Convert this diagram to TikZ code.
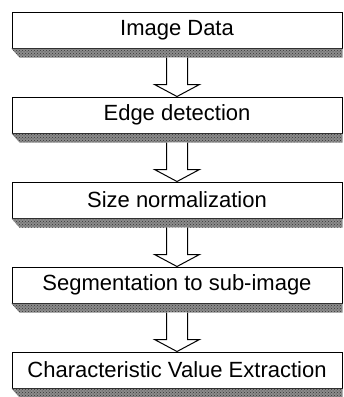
\documentclass[tikz,border=0pt]{standalone}
\usepackage{fontspec}
\setmainfont{Liberation Sans}
\usetikzlibrary{positioning,calc,patterns}
\tikzset{stage/.style={draw, line width=1pt, fill=white, minimum width=330pt,
    minimum height=36pt, inner sep=0pt, font=\fontsize{22}{25}\selectfont}}
\tikzset{shade/.style={fill=black!45, postaction={pattern=crosshatch dots, pattern color=black!80}}}
\tikzset{hollow/.style={draw, line width=1pt, fill=white, line join=miter}}

\begin{document}
\begin{tikzpicture}[x=1pt,y=-1pt]
       \useasboundingbox (0,0) rectangle (344,397);
       \node[stage] (img) at (177,30) {Image Data};
       \node[stage, below=48pt of img] (edge) {Edge detection};
       \node[stage, below=48pt of edge] (size) {Size normalization};
       \node[stage, below=48pt of size] (seg) {Segmentation to sub-image};
       \node[stage, below=48pt of seg] (feat) {Characteristic Value Extraction};
       % shadow strips under the boxes
       \foreach \n in {img,edge,size,seg,feat}
              \fill[shade] (\n.south west) -- (\n.south east) -- ++(0,9)
              -- ($(\n.south west)+(8,9)$) -- cycle;
       % hollow arrows between stages
       \foreach \a/\b in {img/edge,edge/size,size/seg,seg/feat}
              \draw[hollow] ($(\a.south)+(-10.5,9)$) -- ($(\b.north)+(-10.5,-12)$)
              -- ++(-12,0) -- (\b.north) -- ++(22.5,-12) -- ++(-12,0)
              -- ($(\a.south)+(10.5,9)$);
\end{tikzpicture}
\end{document}
